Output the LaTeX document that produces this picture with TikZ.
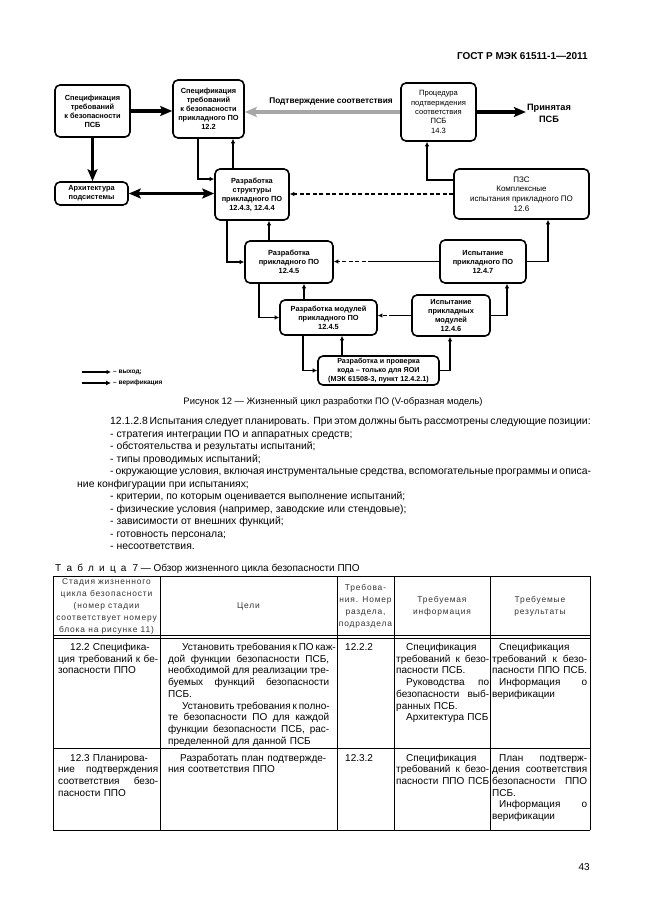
\documentclass[tikz,border=0pt]{standalone}
\usepackage{fontspec}
\setmainfont{Liberation Sans}
\usetikzlibrary{arrows.meta,calc}
\newcommand\jstl[1]{\makebox[\linewidth][s]{\spaceskip=0pt\relax #1}}
\newcommand\ijstl[2][9pt]{\makebox[\linewidth][s]{\spaceskip=0pt\relax\hspace*{#1}#2}}
\newcommand\myind[1][9pt]{\hspace*{#1}}
\newcommand\tsp{\hspace{5.2pt}}
\begin{document}
\begin{tikzpicture}[x=1pt,y=-1pt,
  box/.style={draw,line width=1.6pt,rounded corners=5pt,align=center,inner sep=1pt,font=\fontsize{7.4}{9}\selectfont\bfseries},
  sbox/.style={box,font=\fontsize{7.6}{9.3}\selectfont},
  outl/.style={line width=1.4pt,-{Latex[length=4.5pt,width=4.5pt]}},
  verl/.style={outl,dash pattern=on 4pt off 2.5pt},
  plainl/.style={line width=1.4pt},
  bigl/.style={line width=3.6pt,-{Stealth[length=12pt,width=10pt,inset=2.5pt]}},
  bigd/.style={line width=3.6pt,{Stealth[length=12pt,width=10pt,inset=2.5pt]}-{Stealth[length=12pt,width=10pt,inset=2.5pt]}},
  greyl/.style={bigl,draw=black!35,fill=black!35},
  body/.style={inner sep=0,anchor=base west,font=\fontsize{10.4}{12.5}\selectfont},
  cell/.style={inner sep=0,anchor=base west,align=left,font=\fontsize{10}{11.7}\selectfont},
  hcell/.style={inner sep=0,align=center,text=black!80,font=\fontsize{8.4}{12.1}\selectfont\addfontfeature{LetterSpace=10}},
  tline/.style={line width=0.7pt}
]
\useasboundingbox[fill=white] (0,0) rectangle (646,913);

% header
\node[font=\fontsize{10}{12}\selectfont\bfseries,anchor=base east,inner sep=0] (hdr) at (588,59) {ГОСТ Р МЭК 61511-1—2011};

% diagram boxes
\node[box,minimum width=75pt,minimum height=52pt] (A) at (92.5,111) {Спецификация\\требований\\к безопасности\\ПСБ};
\node[box,minimum width=71pt,minimum height=58pt] (B) at (208.5,109) {Спецификация\\требований\\к безопасности\\прикладного ПО\\12.2};
\node[box,minimum width=73pt,minimum height=23pt] (C) at (91.5,193.5) {Архитектура\\подсистемы};
\node[box,minimum width=74pt,minimum height=51pt] (D) at (252,194.5) {Разработка\\структуры\\прикладного ПО\\12.4.3, 12.4.4};
\node[sbox,minimum width=75pt,minimum height=58pt] (E) at (438.5,112) {Процедура\\подтверждения\\соответствия\\ПСБ\\14.3};
\node[sbox,minimum width=135pt,minimum height=50pt,font=\fontsize{8}{9.8}\selectfont] (F) at (521.5,194) {ПЗС\\Комплексные\\испытания прикладного ПО\\12.6};
\node[box,minimum width=88pt,minimum height=42pt] (G) at (289,262) {Разработка\\прикладного ПО\\12.4.5};
\node[box,minimum width=86pt,minimum height=43pt] (H) at (483,261.5) {Испытание\\прикладного ПО\\12.4.7};
\node[box,minimum width=97pt,minimum height=35pt] (I) at (328.5,317.5) {Разработка модулей\\прикладного ПО\\12.4.5};
\node[box,minimum width=78pt,minimum height=41pt] (J) at (451,315.5) {Испытание\\прикладных\\модулей\\12.4.6};
\node[box,minimum width=121pt,minimum height=29pt,font=\fontsize{7.2}{8.8}\selectfont\bfseries] (K) at (378.5,370.5) {Разработка и проверка\\кода – только для ЯОИ\\(МЭК 61508-3, пункт 12.4.2.1)};

\node[font=\fontsize{9.2}{12}\selectfont\bfseries,align=center,inner sep=1pt] (P) at (549,113) {Принятая\\ПСБ};
\node[font=\fontsize{8.3}{10}\selectfont\bfseries,inner sep=0] (lbl) at (331,102) {Подтверждение соответствия};

% connectors
\draw[bigl] (A.east) -- (A.east -| B.west);
\draw[bigl] (A.south) -- (A.south |- C.north);
\draw[bigd] (C.east) -- (C.east -| D.west);
\draw[greyl] (E.west) -- (E.west -| B.east);
\draw[bigl] (E.east) -- (E.east -| P.west);
\draw[outl] ($(B.south)+(-10.5,0)$) |- ($(D.west)+(0,-15.5)$);
\draw[outl] ($(D.north)+(-19,0)$) -- ($(B.south)+(24.5,0)$);
\draw[outl] ($(F.west)+(0,-14)$) -| ($(E.south)+(-11.5,0)$);
\draw[verl] (F.west) -- (F.west -| D.east);
\draw[outl] ($(D.south)+(-25,0)$) |- (G.west);
\draw[outl] ($(G.north)+(-20,0)$) -- ($(D.south)+(17,0)$);
\coordinate (hg) at (372,261.5);
\draw[verl] (hg) -- (hg -| G.east);
\draw[plainl] (H.west) -- (hg);
\draw[outl] (H.east) -| ($(F.south)+(26.5,0)$);
\draw[outl] ($(G.south)+(-30,0)$) |- (I.west);
\draw[outl] ($(I.north)+(-24.5,0)$) -- ($(G.south)+(15,0)$);
\coordinate (ji) at (393,315.5);
\draw[verl] (ji) -- (ji -| I.east);
\draw[plainl] (J.west) -- (ji);
\draw[outl] (J.east) -| ($(H.south)+(24,0)$);
\draw[outl] ($(I.south)+(-25.5,0)$) |- (K.west);
\draw[outl] ($(K.north)+(-36.5,0)$) -- ($(I.south)+(13.5,0)$);
\draw[outl] (K.east) -| ($(J.south)+(-1,0)$);

% legend
\coordinate (la1) at (82,372); \coordinate (la2) at (111,372);
\draw[outl] (la1) -- (la2);
\node[font=\fontsize{6.5}{8}\selectfont\bfseries,anchor=west,inner sep=1pt] (lt1) at (112,372) {– выход;};
\coordinate (lb1) at (82,383); \coordinate (lb2) at (111,383);
\draw[line width=2.2pt,-{Latex[length=5pt,width=5pt]}] (lb1) -- (lb2);
\node[font=\fontsize{6.5}{8}\selectfont\bfseries,anchor=west,inner sep=1pt] (lt2) at (112,383) {– верификация};

% caption
\node[font=\fontsize{9.4}{11}\selectfont,anchor=base,inner sep=0] (cap) at (333,404) {Рисунок 12 — Жизненный цикл разработки ПО (V-образная модель)};

% body text
\node[body] (t1) at (110,424.5) {\makebox[480pt][s]{12.1.2.8 Испытания следует планировать. При этом должны быть рассмотрены следующие позиции:}};
\node[body] (t2) at (110,437) {- стратегия интеграции ПО и аппаратных средств;};
\node[body] (t3) at (110,449.5) {- обстоятельства и результаты испытаний;};
\node[body] (t4) at (110,462) {- типы проводимых испытаний;};
\node[body] (t5) at (110,474.5) {\makebox[480pt][s]{- окружающие условия, включая инструментальные средства, вспомогательные программы и описа-}};
\node[body] (t6) at (77,487) {ние конфигурации при испытаниях;};
\node[body] (t7) at (110,499.5) {- критерии, по которым оценивается выполнение испытаний;};
\node[body] (t8) at (110,512) {- физические условия (например, заводские или стендовые);};
\node[body] (t9) at (110,524.5) {- зависимости от внешних функций;};
\node[body] (t10) at (110,537) {- готовность персонала;};
\node[body] (t11) at (110,549.5) {- несоответствия.};

% table caption
\node[font=\fontsize{10}{12}\selectfont,anchor=base west,inner sep=0] (tcap) at (55,571) {Т\tsp а\tsp б\tsp л\tsp и\tsp ц\tsp а\hspace{6pt}7 — Обзор жизненного цикла безопасности ППО};

% table frame
\draw[tline] (53,576) -- (590,576);
\foreach \x in {53,160,337,394,490,590} \draw[tline] (\x,576) -- (\x,830);
\draw[tline] (53,635.5) -- (590,635.5);
\draw[tline] (53,638) -- (590,638);
\draw[line width=0.5pt] (53,748.5) -- (590,748.5);
\draw[line width=1pt] (53,830) -- (590,830);

% table header
\node[hcell] (h1) at (106.5,606.5) {Стадия жизненного\\цикла безопасности\\(номер стадии\\соответствует номеру\\блока на рисунке 11)};
\node[hcell] (h2) at (248.5,606.5) {Цели};
\node[hcell] (h3) at (365.5,606.5) {Требова-\\ния. Номер\\раздела,\\подраздела};
\node[hcell] (h4) at (442,606.5) {Требуемая\\информация};
\node[hcell] (h5) at (540,606.5) {Требуемые\\результаты};

% row 1
\node[cell,text width=100pt] (r1c1) at (58,650.5) {\myind[12pt]12.2 Специфика-\\\jstl{ция требований к бе-}\\зопасности ППО};
\node[cell,text width=161pt] (r1c2) at (168,650.5) {\ijstl[14pt]{Установить требования к ПО каж-}\\\jstl{дой функции безопасности ПСБ,}\\\jstl{необходимой для реализации тре-}\\\jstl{буемых функций безопасности}\\ПСБ.\\\ijstl[14pt]{Установить требования к полно-}\\\jstl{те безопасности ПО для каждой}\\\jstl{функции безопасности ПСБ, рас-}\\пределенной для данной ПСБ};
\node[cell] (r1c3) at (345,650.5) {12.2.2};
\node[cell,text width=93pt] (r1c4) at (396,650.5) {\myind[10pt]Спецификация\\\jstl{требований к безо-}\\пасности ПСБ.\\\ijstl[10pt]{Руководства по}\\\jstl{безопасности выб-}\\ранных ПСБ.\\\myind[10pt]Архитектура ПСБ};
\node[cell,text width=95pt] (r1c5) at (492,650.5) {\myind[7pt]Спецификация\\\jstl{требований к безо-}\\\jstl{пасности ППО ПСБ.}\\\ijstl[7pt]{Информация о}\\верификации};

% row 2
\node[cell,text width=100pt] (r2c1) at (58,761) {\myind[12pt]12.3 Планирова-\\\jstl{ние подтверждения}\\\jstl{соответствия безо-}\\пасности ППО};
\node[cell,text width=161pt] (r2c2) at (168,761) {\myind[12pt]Разработать план подтвержде-\\ния соответствия ППО};
\node[cell] (r2c3) at (345,761) {12.3.2};
\node[cell,text width=93pt] (r2c4) at (396,761) {\myind[10pt]Спецификация\\\jstl{требований к безо-}\\\jstl{пасности ППО ПСБ}};
\node[cell,text width=95pt] (r2c5) at (492,761) {\ijstl[7pt]{План подтверж-}\\\jstl{дения соответствия}\\\jstl{безопасности ППО}\\ПСБ.\\\ijstl[7pt]{Информация о}\\верификации};

% page number
\node[font=\fontsize{10}{12}\selectfont,anchor=base east,inner sep=0] (pg) at (590,870) {43};
\end{tikzpicture}
\end{document}
